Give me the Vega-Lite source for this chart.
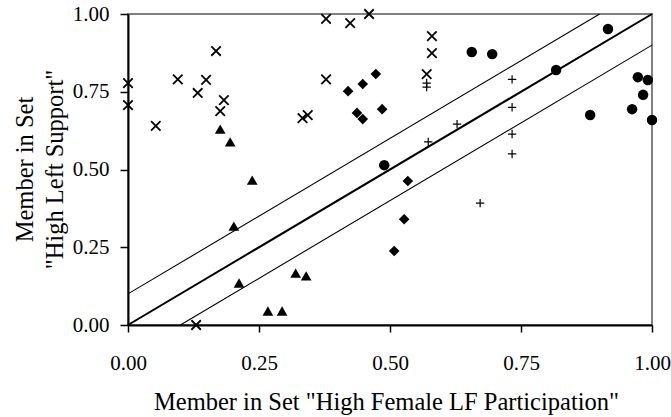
{
  "$schema": "https://vega.github.io/schema/vega-lite/v6.json",
  "width": 524,
  "height": 311,
  "autosize": "none",
  "padding": {"left": 128, "top": 14, "right": 19, "bottom": 92},
  "background": "white",
  "config": {
    "view": {"stroke": "#808080", "strokeWidth": 2},
    "font": "Liberation Serif",
    "axis": {
      "grid": false,
      "domainColor": "black",
      "domainWidth": 2,
      "tickColor": "black",
      "tickWidth": 1.5,
      "tickSize": 8,
      "labelFlush": false,
      "labelFont": "Liberation Serif",
      "labelFontSize": 21,
      "labelColor": "black",
      "titleFont": "Liberation Serif",
      "titleFontSize": 24.5,
      "titleFontWeight": "normal",
      "titleColor": "black"
    }
  },
  "resolve": {"scale": {"shape": "independent", "size": "independent", "strokeWidth": "independent"}},
  "datasets": {
    "points": [
      {"x": 0.0, "y": 0.778, "group": "x"},
      {"x": 0.0, "y": 0.707, "group": "x"},
      {"x": 0.053, "y": 0.64, "group": "x"},
      {"x": 0.095, "y": 0.79, "group": "x"},
      {"x": 0.133, "y": 0.746, "group": "x"},
      {"x": 0.149, "y": 0.788, "group": "x"},
      {"x": 0.168, "y": 0.881, "group": "x"},
      {"x": 0.176, "y": 0.688, "group": "x"},
      {"x": 0.183, "y": 0.723, "group": "x"},
      {"x": 0.378, "y": 0.984, "group": "x"},
      {"x": 0.424, "y": 0.971, "group": "x"},
      {"x": 0.46, "y": 1.0, "group": "x"},
      {"x": 0.58, "y": 0.929, "group": "x"},
      {"x": 0.58, "y": 0.874, "group": "x"},
      {"x": 0.378, "y": 0.79, "group": "x"},
      {"x": 0.57, "y": 0.807, "group": "x"},
      {"x": 0.333, "y": 0.665, "group": "x"},
      {"x": 0.343, "y": 0.675, "group": "x"},
      {"x": 0.13, "y": 0.0, "group": "x"},
      {"x": 0.57, "y": 0.778, "group": "plus"},
      {"x": 0.57, "y": 0.765, "group": "plus"},
      {"x": 0.628, "y": 0.646, "group": "plus"},
      {"x": 0.573, "y": 0.589, "group": "plus"},
      {"x": 0.733, "y": 0.79, "group": "plus"},
      {"x": 0.733, "y": 0.7, "group": "plus"},
      {"x": 0.733, "y": 0.614, "group": "plus"},
      {"x": 0.733, "y": 0.55, "group": "plus"},
      {"x": 0.672, "y": 0.392, "group": "plus"},
      {"x": 0.176, "y": 0.63, "group": "triangle"},
      {"x": 0.195, "y": 0.589, "group": "triangle"},
      {"x": 0.237, "y": 0.466, "group": "triangle"},
      {"x": 0.202, "y": 0.318, "group": "triangle"},
      {"x": 0.212, "y": 0.135, "group": "triangle"},
      {"x": 0.267, "y": 0.045, "group": "triangle"},
      {"x": 0.294, "y": 0.045, "group": "triangle"},
      {"x": 0.32, "y": 0.167, "group": "triangle"},
      {"x": 0.34, "y": 0.158, "group": "triangle"},
      {"x": 0.42, "y": 0.752, "group": "diamond"},
      {"x": 0.448, "y": 0.775, "group": "diamond"},
      {"x": 0.473, "y": 0.807, "group": "diamond"},
      {"x": 0.437, "y": 0.682, "group": "diamond"},
      {"x": 0.448, "y": 0.662, "group": "diamond"},
      {"x": 0.485, "y": 0.694, "group": "diamond"},
      {"x": 0.534, "y": 0.463, "group": "diamond"},
      {"x": 0.527, "y": 0.34, "group": "diamond"},
      {"x": 0.508, "y": 0.238, "group": "diamond"},
      {"x": 0.489, "y": 0.514, "group": "circle"},
      {"x": 0.656, "y": 0.878, "group": "circle"},
      {"x": 0.695, "y": 0.871, "group": "circle"},
      {"x": 0.916, "y": 0.952, "group": "circle"},
      {"x": 0.817, "y": 0.82, "group": "circle"},
      {"x": 0.973, "y": 0.797, "group": "circle"},
      {"x": 0.992, "y": 0.788, "group": "circle"},
      {"x": 0.983, "y": 0.74, "group": "circle"},
      {"x": 0.962, "y": 0.694, "group": "circle"},
      {"x": 0.882, "y": 0.675, "group": "circle"},
      {"x": 1.0, "y": 0.659, "group": "circle"}
    ],
    "lines": [
      {"x": 0, "y": 0, "x2": 1, "y2": 1, "kind": "main"},
      {"x": 0, "y": 0.1, "x2": 0.9, "y2": 1, "kind": "band"},
      {"x": 0.1, "y": 0, "x2": 1, "y2": 0.9, "kind": "band"}
    ]
  },
  "layer": [
    {
      "data": {"name": "lines"},
      "mark": {"type": "rule", "color": "black"},
      "encoding": {
        "x": {"field": "x", "type": "quantitative", "scale": {"domain": [0, 1], "nice": false},
              "axis": {"values": [0, 0.25, 0.5, 0.75, 1], "format": ".2f", "tickSize": 7, "labelPadding": 20,
                       "title": "Member in Set \"High Female LF Participation\"",
                       "titleX": 258, "titleY": 84, "titleBaseline": "alphabetic", "titleAlign": "center"}},
        "y": {"field": "y", "type": "quantitative", "scale": {"domain": [0, 1], "nice": false},
              "axis": {"values": [0, 0.25, 0.5, 0.75, 1], "format": ".2f", "labelPadding": 11,
                       "title": ["Member in Set", "\"High Left Support\""], "titleLineHeight": 30,
                       "titleAngle": 270, "titleX": -96, "titleY": 155, "titleBaseline": "alphabetic", "titleAlign": "center"}},
        "x2": {"field": "x2"},
        "y2": {"field": "y2"},
        "strokeWidth": {"field": "kind", "type": "nominal", "scale": {"domain": ["main", "band"], "range": [2, 1.1]}, "legend": null}
      }
    },
    {
      "data": {"name": "points"},
      "transform": [{"filter": "datum.group == 'x' || datum.group == 'plus'"}],
      "mark": {"type": "point", "filled": false, "color": "black", "opacity": 1},
      "encoding": {
        "x": {"field": "x", "type": "quantitative"},
        "y": {"field": "y", "type": "quantitative"},
        "shape": {"field": "group", "type": "nominal", "scale": {"domain": ["x", "plus"], "range": ["M-1,-1L1,1M-1,1L1,-1", "M-1,0L1,0M0,-1L0,1"]}, "legend": null},
        "strokeWidth": {"field": "group", "type": "nominal", "scale": {"domain": ["x", "plus"], "range": [1.8, 1.2]}, "legend": null},
        "size": {"field": "group", "type": "nominal", "scale": {"domain": ["x", "plus"], "range": [90, 70]}, "legend": null}
      }
    },
    {
      "data": {"name": "points"},
      "transform": [{"filter": "datum.group != 'x' && datum.group != 'plus'"}],
      "mark": {"type": "point", "filled": true, "color": "black", "opacity": 1},
      "encoding": {
        "x": {"field": "x", "type": "quantitative"},
        "y": {"field": "y", "type": "quantitative"},
        "shape": {"field": "group", "type": "nominal", "scale": {"domain": ["triangle", "diamond", "circle"], "range": ["triangle-up", "diamond", "circle"]}, "legend": null},
        "size": {"field": "group", "type": "nominal", "scale": {"domain": ["triangle", "diamond", "circle"], "range": [115, 110, 115]}, "legend": null}
      }
    }
  ]
}
